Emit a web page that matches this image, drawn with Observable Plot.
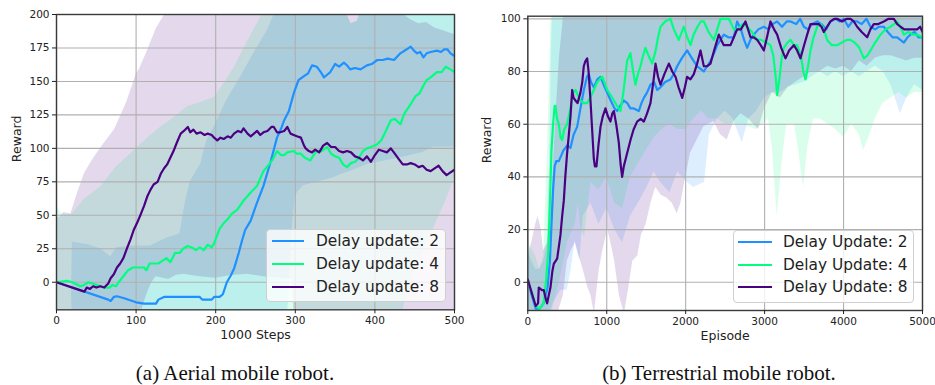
<!DOCTYPE html>
<html><head><meta charset="utf-8">
<script src="https://cdn.jsdelivr.net/npm/d3@7"></script>
<script src="https://cdn.jsdelivr.net/npm/@observablehq/plot@0.6"></script>
<style>
html,body{margin:0;padding:0;background:#fff;}
body{width:935px;height:385px;position:relative;overflow:hidden;font-family:"DejaVu Sans",sans-serif;}
.panel{position:absolute;top:0;}
.panel svg{overflow:visible;}
.cap{position:absolute;top:363px;font-family:"Liberation Serif",serif;font-size:21px;line-height:21px;color:#111;white-space:nowrap;transform:translateX(-50%);}
.legend{position:absolute;background:rgba(255,255,255,0.8);border:1px solid #cfcfcf;border-radius:4px;box-sizing:border-box;}
.lg-line{position:absolute;height:2.2px;}
.lg-text{position:absolute;font-family:"DejaVu Sans",sans-serif;font-size:15.4px;line-height:16px;color:#222;white-space:nowrap;}
</style></head>
<body>
<div id="left" class="panel" style="left:0px"></div>
<div id="right" class="panel" style="left:467px"></div>
<div class="cap" style="left:235px">(a) Aerial mobile robot.</div>
<div class="cap" style="left:719px">(b) Terrestrial mobile robot.</div>
<script>
// ---------- shared ----------
const seriesNames = ["Delay update: 2", "Delay update: 4", "Delay update: 8"];
const seriesNamesB = ["Delay Update: 2", "Delay Update: 4", "Delay Update: 8"];
const seriesColors = ["#1e90ff", "#00ff7f", "#4b0082"];

// ---------- (a) Aerial mobile robot : x = 1000 steps ----------
const aerialXTicks = [0, 100, 200, 300, 400, 500];
const aerialYTicks = [0, 25, 50, 75, 100, 125, 150, 175, 200];
const aerialLine2 = [[0,0],[30,-6],[65,-13],[68,-14],[72,-11],[76,-10.5],[85,-12],[100,-15],[110,-16],[125,-16],[128,-13],[135,-11],[180,-11],[183,-13],[195,-13],[198,-11],[205,-11],[209,-9],[214,0],[219,5],[223,10],[229,22],[233,31],[237,39],[244,46],[251,58],[260,72],[269,90],[277,108],[283,116],[286,121],[292,128],[298,141],[304,151],[311,154],[316,156],[321,162],[327,161],[332,157],[336,153],[340,155],[344,157],[350,163],[355,161],[361,164],[365,162],[369,159],[375,160],[382,159],[390,162],[396,163],[403,166],[410,166],[416,167],[424,166],[432,171],[440,174],[445,176],[449,173],[453,171],[457,172],[461,168],[465,171],[470,172],[478,173],[483,172],[487,174],[491,174],[495,171],[500,169]];
const aerialLine4 = [[0,0],[13,1],[20,0],[30,-3],[35,-2],[40,0],[45,-1],[50,-2],[55,-3],[60,-4],[67,-4],[70,-2],[75,-3],[78,0],[82,3],[86,6],[90,9],[96,11],[100,11],[110,11],[113,9],[117,14],[128,14],[133,16],[138,18],[143,15],[149,22],[155,22],[159,25],[165,27],[170,26],[175,24],[180,26],[185,24],[190,28],[195,26],[198,29],[205,40],[210,44],[215,47],[220,51],[227,54],[235,61],[244,67],[252,72],[260,83],[267,88],[272,92],[277,98],[282,95],[286,95],[290,97],[298,98],[302,96],[307,96],[312,93],[319,91],[323,95],[327,98],[333,98],[340,101],[345,96],[350,94],[355,93],[360,88],[365,86],[370,89],[375,90],[380,93],[385,98],[390,100],[395,101],[403,103],[408,106],[413,112],[420,121],[425,122],[432,118],[437,126],[445,133],[451,139],[456,141],[461,147],[465,151],[470,153],[478,157],[484,157],[489,161],[495,159],[500,157]];
const aerialLine8 = [[0,0],[35,-7],[38,-4],[42,-5],[46,-3],[50,-4],[55,-3],[60,-4],[65,-1],[68,3],[72,6],[76,11],[80,14],[84,18],[89,26],[93,32],[97,39],[101,44],[106,51],[110,57],[114,64],[118,69],[122,73],[127,75],[131,81],[135,85],[139,88],[143,93],[147,98],[151,104],[156,111],[160,113],[165,116],[168,112],[172,114],[176,111],[181,112],[186,110],[190,111],[195,110],[198,108],[202,106],[206,108],[210,107],[215,109],[219,108],[223,111],[228,113],[232,112],[235,115],[240,111],[244,109],[248,111],[252,113],[256,110],[260,112],[265,113],[270,116],[273,116],[277,112],[281,112],[286,113],[290,116],[294,111],[298,110],[302,109],[307,108],[311,102],[313,100],[317,98],[321,97],[325,99],[330,97],[335,102],[340,104],[345,101],[350,101],[355,98],[360,97],[365,98],[370,97],[375,94],[380,93],[385,91],[390,94],[395,90],[400,95],[405,99],[410,98],[415,97],[420,100],[425,96],[430,92],[435,88],[440,88],[445,89],[450,88],[455,86],[460,87],[465,84],[470,83],[475,85],[480,87],[485,83],[490,80],[495,82],[500,84]];
// bands: [x, lower, upper]
const aerialBand2 = [[0,0,0],[19,-4,-4],[20,-40,30],[30,-40,29],[40,-40,28],[55,-40,25],[68,-40,19],[76,-40,26],[97,-40,27],[118,-40,27],[139,-40,33],[155,-40,36],[162,-40,60],[168,-40,75],[181,-40,88],[189,-40,106],[198,-40,116],[214,-40,136],[231,-40,153],[248,-40,171],[265,-40,188],[277,-40,205],[288,-40,215],[292,-10,215],[296,40,215],[300,65,215],[310,72,215],[330,75,215],[348,78,215],[360,81,215],[365,82,200],[370,83,193],[378,85,195],[383,86,205],[390,88,215],[432,93,215],[460,97,215],[474,101,215],[500,101,215]];
const aerialBand4 = [[0,-40,57],[5,-40,52],[10,-40,50],[20,-40,51],[35,-40,62],[55,-40,71],[75,-40,86],[97,-40,98],[115,-40,108],[131,-40,116],[150,-40,124],[164,-40,131],[180,-40,134],[198,-40,138],[210,-40,148],[223,-40,160],[240,-40,180],[256,-40,197],[262,-40,215],[360,-40,215],[365,-40,200],[370,-40,193],[378,-40,195],[383,-40,205],[390,-40,215],[430,-40,215],[435,-21,215],[450,10,215],[470,35,215],[490,62,215],[500,78,215]];
const aerialBand8 = [[0,-40,48],[5,-40,49],[9,-40,52],[18,-40,51],[26,-40,66],[35,-40,81],[47,-40,93],[59,-40,103],[73,-40,114],[88,-40,134],[100,-40,155],[105,-40,160],[107,-21,163],[113,-10,171],[119,-1,180],[125,4,189],[141,2,205],[150,5,215],[160,6,215],[180,4,215],[200,3,215],[220,5,215],[240,6,215],[260,4,215],[280,3,215],[296,2,215],[300,-40,215],[430,-40,215],[436,-40,200],[445,-40,196],[455,-40,193],[465,-40,194],[475,-40,190],[485,-40,188],[495,-40,186],[500,-40,185]];

// ---------- (b) Terrestrial mobile robot : x = episode ----------
const terrXTicks = [0, 1000, 2000, 3000, 4000, 5000];
const terrYTicks = [0, 20, 40, 60, 80, 100];
const terrLine2 = [[0,1],[50,-5],[100,-10],[150,-10],[200,-8],[250,-2],[280,8],[300,22],[320,35],[340,44],[360,46],[393,46],[450,50],[500,52],[540,51],[580,56],[625,59],[667,66],[710,73],[750,78],[773,79],[800,76],[836,74],[880,77],[920,78],[960,75],[1005,72],[1050,69],[1100,66],[1132,65],[1170,67],[1216,69],[1260,68],[1300,66],[1343,66],[1406,65],[1440,68],[1470,70],[1510,72],[1554,75],[1600,76],[1640,73],[1681,74],[1740,76],[1807,77],[1850,79],[1892,82],[1950,85],[2018,88],[2080,85],[2145,82],[2190,81],[2230,80],[2270,82],[2314,84],[2360,87],[2399,90],[2440,92],[2483,94],[2540,93],[2610,93],[2652,99],[2700,96],[2740,92],[2779,89],[2820,92],[2863,94],[2920,96],[2990,97],[3050,96],[3100,98],[3159,99],[3220,97],[3280,99],[3328,99],[3400,98],[3450,100],[3497,97],[3550,96],[3600,98],[3666,99],[3720,98],[3780,96],[3834,99],[3900,100],[3950,99],[4003,100],[4060,97],[4110,99],[4172,99],[4230,98],[4290,100],[4341,97],[4400,96],[4450,97],[4510,97],[4560,95],[4620,93],[4679,93],[4720,92],[4764,91],[4810,93],[4848,94],[4900,95],[4950,93],[5000,93]];
const terrLine4 = [[0,0],[50,-4],[100,-9],[150,-10],[200,-8],[230,0],[260,12],[285,35],[300,50],[320,60],[340,67],[350,67],[370,62],[393,60],[415,55],[435,54],[460,58],[498,60],[520,63],[540,66],[575,72],[604,73],[635,71],[667,69],[710,68],[752,68],[790,70],[836,73],[880,76],[942,78],[970,76],[1005,73],[1050,71],[1090,69],[1130,67],[1174,65],[1210,72],[1258,84],[1300,87],[1335,80],[1364,75],[1395,79],[1427,82],[1460,86],[1490,89],[1530,86],[1576,83],[1620,88],[1650,93],[1681,97],[1740,99],[1807,100],[1850,96],[1913,92],[1950,95],[1976,97],[2020,93],[2061,90],[2100,94],[2150,97],[2190,99],[2230,99],[2290,95],[2357,92],[2400,96],[2441,100],[2500,100],[2547,100],[2580,98],[2610,96],[2660,96],[2720,98],[2779,97],[2840,95],[2906,92],[2960,92],[3020,91],[3074,90],[3110,86],[3140,78],[3159,71],[3190,78],[3220,86],[3243,89],[3290,91],[3328,92],[3370,90],[3412,90],[3460,86],[3490,80],[3518,77],[3550,82],[3581,88],[3620,93],[3666,97],[3710,98],[3750,96],[3792,92],[3850,90],[3919,90],[3980,91],[4040,92],[4088,92],[4140,91],[4200,89],[4257,85],[4300,86],[4341,88],[4400,91],[4468,94],[4530,96],[4595,97],[4640,98],[4679,99],[4720,97],[4764,94],[4820,95],[4880,94],[4933,94],[5000,93]];
const terrLine8 = [[0,1],[50,-4],[100,-9],[130,-8],[139,-2],[180,-3],[203,-3],[225,-6],[245,-8],[265,-5],[287,-2],[310,4],[329,7],[372,9],[400,15],[414,18],[435,25],[456,31],[475,40],[498,49],[520,56],[541,63],[562,73],[580,70],[604,69],[630,68],[667,72],[690,76],[709,82],[730,84],[752,85],[770,80],[794,69],[815,58],[836,47],[850,44],[870,44],[895,52],[921,59],[950,63],[984,66],[1015,63],[1047,61],[1070,64],[1090,65],[1120,60],[1153,53],[1175,45],[1195,40],[1216,44],[1250,48],[1301,54],[1340,58],[1385,61],[1430,62],[1470,61],[1510,64],[1554,68],[1590,76],[1618,83],[1650,78],[1681,75],[1730,79],[1787,83],[1830,80],[1871,78],[1910,74],[1956,70],[1990,74],[2018,78],[2060,77],[2103,79],[2145,83],[2188,88],[2230,82],[2270,82],[2314,83],[2360,88],[2420,94],[2450,92],[2483,90],[2530,90],[2568,90],[2610,93],[2652,96],[2700,96],[2757,99],[2790,96],[2821,93],[2860,93],[2906,92],[2950,90],[2990,88],[3030,93],[3074,99],[3120,96],[3159,94],[3210,89],[3265,85],[3310,88],[3370,90],[3412,88],[3454,85],[3500,90],[3539,94],[3581,98],[3630,98],[3687,98],[3720,97],[3750,95],[3790,97],[3834,99],[3880,100],[3919,100],[3980,99],[4040,100],[4088,100],[4130,99],[4172,97],[4230,95],[4299,93],[4340,96],[4383,98],[4440,98],[4510,99],[4570,100],[4637,100],[4680,98],[4721,97],[4770,96],[4806,96],[4870,96],[4933,96],[4970,97],[5000,95]];
const terrBand2 = [[0,-15,12],[50,-15,8],[100,-15,5],[150,-15,5],[200,-15,8],[250,-12,15],[280,-11,50],[300,-10,90],[320,-8,110],[420,-3,110],[500,-3,110],[550,5,110],[600,16,110],[660,8,110],[700,25,110],[800,30,110],[900,22,110],[1000,28,110],[1100,20,110],[1200,15,110],[1300,25,110],[1400,30,110],[1510,36,110],[1600,42,110],[1680,38,110],[1800,34,110],[1900,42,110],[2020,38,110],[2100,36,110],[2240,38,110],[2300,56,110],[2400,62,110],[2500,65,110],[2600,62,110],[2716,53,110],[2800,62,110],[2900,65,110],[3000,70,110],[3100,72,110],[3200,72,110],[3300,74,110],[3400,75,110],[3500,76,110],[3600,78,110],[3700,80,110],[3800,78,110],[3900,80,110],[4000,78,110],[4100,80,110],[4200,78,110],[4300,80,110],[4400,82,110],[4500,80,110],[4600,75,110],[4720,64,110],[4800,70,110],[4900,75,110],[5000,73,110]];
const terrBand4 = [[0,-15,15],[100,-15,10],[150,-15,5],[200,-15,10],[250,-15,50],[280,-12,85],[300,-12,110],[400,0,110],[500,15,110],[600,22,110],[640,30,110],[675,20,110],[720,17,110],[760,28,110],[800,38,110],[900,35,110],[1000,40,110],[1100,30,110],[1200,28,110],[1300,40,110],[1400,45,110],[1500,50,110],[1600,55,110],[1700,58,110],[1800,60,110],[1900,58,110],[2000,58,110],[2100,62,110],[2200,65,110],[2300,62,110],[2400,62,110],[2500,60,110],[2700,60,110],[2900,58,110],[3050,62,110],[3100,50,110],[3160,25,110],[3220,45,110],[3280,60,110],[3380,60,110],[3440,48,110],[3493,36,110],[3550,52,110],[3620,62,110],[3700,62,110],[3800,60,110],[3900,58,110],[4000,55,110],[4100,60,110],[4200,56,110],[4253,50,110],[4320,55,110],[4400,62,110],[4500,68,110],[4600,70,110],[4700,72,110],[4800,70,110],[4900,72,110],[5000,72,110]];
const terrBand8 = [[0,-15,10],[50,-15,15],[100,-15,22],[130,-15,25],[170,-15,20],[200,-15,12],[250,-15,15],[300,-15,30],[350,-15,60],[400,-10,85],[450,-5,100],[470,0,110],[500,8,110],[550,12,110],[600,15,110],[650,10,110],[700,5,110],[760,-2,110],[800,-5,110],[844,-12,110],[880,-2,110],[907,5,110],[950,12,110],[1013,20,110],[1060,14,110],[1100,8,110],[1160,-5,110],[1224,-12,110],[1280,-2,110],[1330,8,110],[1393,10,110],[1440,18,110],[1500,22,110],[1560,30,110],[1620,36,110],[1690,33,110],[1760,32,110],[1830,30,110],[1892,26,110],[1940,30,110],[1976,36,110],[2061,49,110],[2145,54,110],[2230,59,110],[2357,61,110],[2441,56,110],[2526,54,110],[2610,61,110],[2700,64,110],[2800,62,110],[2923,58,110],[3000,66,110],[3100,72,110],[3200,70,110],[3300,74,110],[3400,76,110],[3500,78,110],[3600,80,110],[3700,80,110],[3800,82,110],[3900,81,110],[4000,82,110],[4100,80,110],[4200,84,110],[4300,82,110],[4400,85,110],[4500,86,110],[4600,86,110],[4700,85,110],[4800,84,110],[4900,85,110],[5000,85,110]];

// ---------- drawing ----------
function panel(cfg) {
  const bandMarks = cfg.bands.map((b, i) => Plot.areaY(b, {
    x: d => d[0], y1: d => d[1], y2: d => d[2],
    fill: seriesColors[i], fillOpacity: 0.15, clip: true
  }));
  const lineMarks = cfg.lines.map((l, i) => Plot.line(l, {
    x: d => d[0], y: d => d[1], stroke: seriesColors[i], strokeWidth: 2.2, clip: true
  }));
  return Plot.plot({
    width: cfg.width, height: cfg.height,
    marginLeft: cfg.ml, marginRight: cfg.mr, marginTop: cfg.mt, marginBottom: cfg.mb,
    x: {domain: cfg.xDomain},
    y: {domain: cfg.yDomain},
    style: {fontFamily: "DejaVu Sans", fontSize: "10.5px", color: "#222", background: "transparent"},
    marks: [
      ...bandMarks,
      Plot.gridX(cfg.xTicks, {stroke: "#b0b0b0", strokeOpacity: 1, strokeWidth: 1.1}),
      Plot.gridY(cfg.yTicks, {stroke: "#b0b0b0", strokeOpacity: 1, strokeWidth: 1.1}),
      ...lineMarks,
      Plot.frame({stroke: "#3a3a3a", strokeWidth: 1.4}),
      Plot.axisX(cfg.xTicks, {tickSize: 4, tickPadding: 3, label: null, fontSize: 10.5, tickFormat: d => String(d)}),
      Plot.axisY(cfg.yTicks, {tickSize: 4, tickPadding: 3, label: null, fontSize: 10.5, tickFormat: d => String(d)}),
      Plot.text([cfg.xLabel], {frameAnchor: "bottom", dy: 29, text: d => d, fontSize: 12.5, fill: "#222"}),
      Plot.text(["Reward"], {frameAnchor: "left", dx: cfg.ylDx, rotate: -90, text: d => d, fontSize: 12.5, fill: "#222"})
    ]
  });
}

document.getElementById("left").appendChild(panel({
  width: 467, height: 345, ml: 56, mr: 13, mt: 14, mb: 35.7,
  xDomain: [0, 500], yDomain: [-20.6, 200],
  xTicks: aerialXTicks, yTicks: aerialYTicks,
  bands: [aerialBand2, aerialBand4, aerialBand8],
  lines: [aerialLine2, aerialLine4, aerialLine8],
  xLabel: "1000 Steps", ylDx: -40
}));
document.getElementById("right").appendChild(panel({
  width: 468, height: 345, ml: 60.3, mr: 13, mt: 15.7, mb: 35,
  xDomain: [0, 5000], yDomain: [-10.7, 101],
  xTicks: terrXTicks, yTicks: terrYTicks,
  bands: [terrBand2, terrBand4, terrBand8],
  lines: [terrLine2, terrLine4, terrLine8],
  xLabel: "Episode", ylDx: -40.6
}));

// ---------- legends (HTML overlay) ----------
function legend(box, lineX1, lineX2, textX, rowYs, names) {
  const d = document.createElement("div");
  d.className = "legend";
  d.style.left = box[0] + "px"; d.style.top = box[1] + "px";
  d.style.width = box[2] + "px"; d.style.height = box[3] + "px";
  document.body.appendChild(d);
  names.forEach((n, i) => {
    const ln = document.createElement("div");
    ln.className = "lg-line";
    ln.style.left = lineX1 + "px"; ln.style.width = (lineX2 - lineX1) + "px";
    ln.style.top = (rowYs[i] - 1.1) + "px"; ln.style.background = seriesColors[i];
    document.body.appendChild(ln);
    const t = document.createElement("div");
    t.className = "lg-text";
    t.style.left = textX + "px"; t.style.top = (rowYs[i] - 8) + "px";
    t.textContent = n;
    document.body.appendChild(t);
  });
}
legend([266, 229, 180, 73], 272, 304, 316, [241, 264.3, 287.3], seriesNames);
legend([733, 230, 181, 73], 738, 772, 783, [242.3, 265, 287.3], seriesNamesB);
</script>
</body></html>
